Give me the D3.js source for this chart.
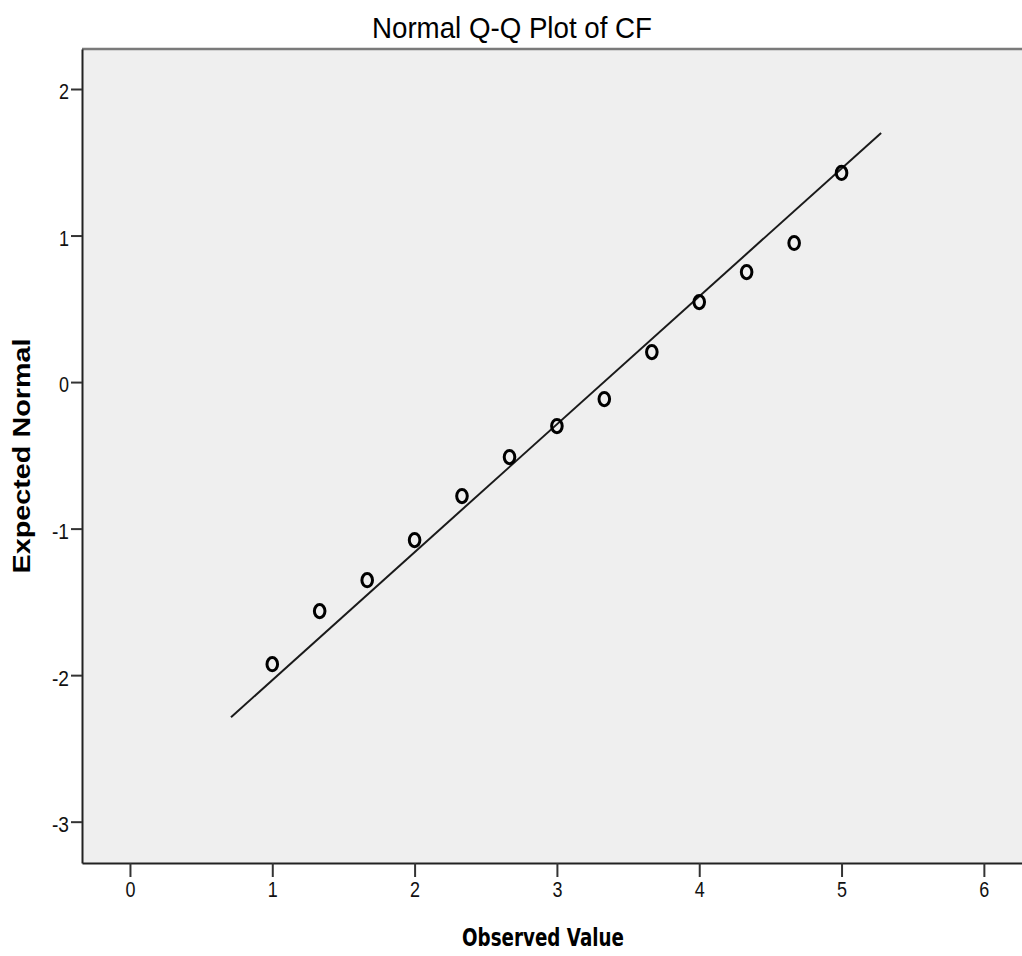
<!DOCTYPE html>
<html>
<head>
<meta charset="utf-8">
<script src="https://cdn.jsdelivr.net/npm/d3@7"></script>
<style>
  body { margin: 0; background: #fff; }
  svg { display: block; }
</style>
</head>
<body>
<div id="chart"></div>
<script>
  // Observed values (CF) and their expected normal quantiles
  const observed = [1, 1.333, 1.667, 2, 2.333, 2.667, 3, 3.333, 3.667, 4, 4.333, 4.667, 5];
  const expected = [-1.925, -1.563, -1.352, -1.078, -0.778, -0.512, -0.300, -0.116, 0.205, 0.546, 0.751, 0.949, 1.427];

  // reference line endpoints
  const lineX = [0.71, 5.278];
  const lineY = [-2.287, 1.700];

  const xTicks = [0, 1, 2, 3, 4, 5, 6];
  const yTicks = [2, 1, 0, -1, -2, -3];

  const width = 1022, height = 956;
  const plot = {left: 82, top: 49, right: 1024, bottom: 863};

  const svg = d3.select("#chart")
    .append("svg")
      .attr("width", width)
      .attr("height", height);

  const x = d3.scaleLinear()
    .domain([-0.337, 6.282])
    .range([plot.left, plot.right]);
  const y = d3.scaleLinear()
    .domain([-3.282, 2.273])
    .range([plot.bottom, plot.top]);

  // plot background
  svg.append("rect")
    .attr("x", plot.left)
    .attr("y", plot.top)
    .attr("width", plot.right - plot.left)
    .attr("height", plot.bottom - plot.top)
    .attr("fill", "#efefef");

  // top frame line (grey)
  svg.append("line")
    .attr("x1", plot.left).attr("x2", plot.right)
    .attr("y1", plot.top).attr("y2", plot.top)
    .attr("stroke", "#7a7a7a")
    .attr("stroke-width", 2.5);

  // labels are narrow in the original, squeeze them to ~10px per digit
  const fmt = d => String(d).replace("−", "-");
  const squeeze = sel => sel
    .attr("textLength", function() {
      const t = this.textContent;
      return t.length === 1 ? 10 : 17;
    })
    .attr("lengthAdjust", "spacingAndGlyphs");

  // X axis
  const xAxis = svg.append("g")
    .attr("transform", `translate(0,${plot.bottom})`)
    .call(d3.axisBottom(x).tickValues(xTicks).tickFormat(fmt)
      .tickSize(14).tickPadding(4).tickSizeOuter(0));
  // Y axis
  const yAxis = svg.append("g")
    .attr("transform", `translate(${plot.left},0)`)
    .call(d3.axisLeft(y).tickValues(yTicks).tickFormat(fmt)
      .tickSize(11).tickPadding(2).tickSizeOuter(0));

  [xAxis, yAxis].forEach(g => {
    g.select(".domain").attr("stroke", "#222").attr("stroke-width", 2);
    g.selectAll(".tick line").attr("stroke", "#333").attr("stroke-width", 2);
    g.selectAll(".tick text")
      .attr("fill", "#111")
      .style("font-family", "'Liberation Sans', Arial, sans-serif")
      .style("font-size", "22px")
      .call(squeeze);
  });
  yAxis.selectAll(".tick text").attr("dy", "0.45em");
  xAxis.selectAll(".tick text").attr("dy", "0.72em");

  // reference line
  svg.append("line")
    .attr("x1", x(lineX[0])).attr("y1", y(lineY[0]))
    .attr("x2", x(lineX[1])).attr("y2", y(lineY[1]))
    .attr("stroke", "#1a1a1a")
    .attr("stroke-width", 2);

  // points
  svg.append("g")
    .selectAll("ellipse")
    .data(observed.map((d, i) => ({x: d, y: expected[i]})))
    .join("ellipse")
      .attr("cx", d => x(d.x))
      .attr("cy", d => y(d.y))
      .attr("rx", 5.3)
      .attr("ry", 6.6)
      .attr("fill", "none")
      .attr("stroke", "#000")
      .attr("stroke-width", 3);

  // title
  svg.append("text")
    .attr("x", 512)
    .attr("y", 38)
    .attr("text-anchor", "middle")
    .style("font-family", "'Liberation Sans', Arial, sans-serif")
    .style("font-size", "29px")
    .attr("textLength", 280)
    .attr("lengthAdjust", "spacingAndGlyphs")
    .attr("fill", "#000")
    .text("Normal Q-Q Plot of CF");

  // x axis label
  svg.append("text")
    .attr("x", 543)
    .attr("y", 946)
    .attr("text-anchor", "middle")
    .style("font-family", "'DejaVu Sans', Verdana, sans-serif")
    .style("font-weight", "bold")
    .style("font-size", "25px")
    .attr("textLength", 162)
    .attr("lengthAdjust", "spacingAndGlyphs")
    .attr("fill", "#000")
    .text("Observed Value");

  // y axis label
  svg.append("text")
    .attr("transform", "translate(30,456) rotate(-90)")
    .attr("text-anchor", "middle")
    .style("font-family", "'Liberation Sans', Arial, sans-serif")
    .style("font-weight", "bold")
    .style("font-size", "24px")
    .attr("textLength", 235)
    .attr("lengthAdjust", "spacingAndGlyphs")
    .attr("fill", "#000")
    .text("Expected Normal");
</script>
</body>
</html>
